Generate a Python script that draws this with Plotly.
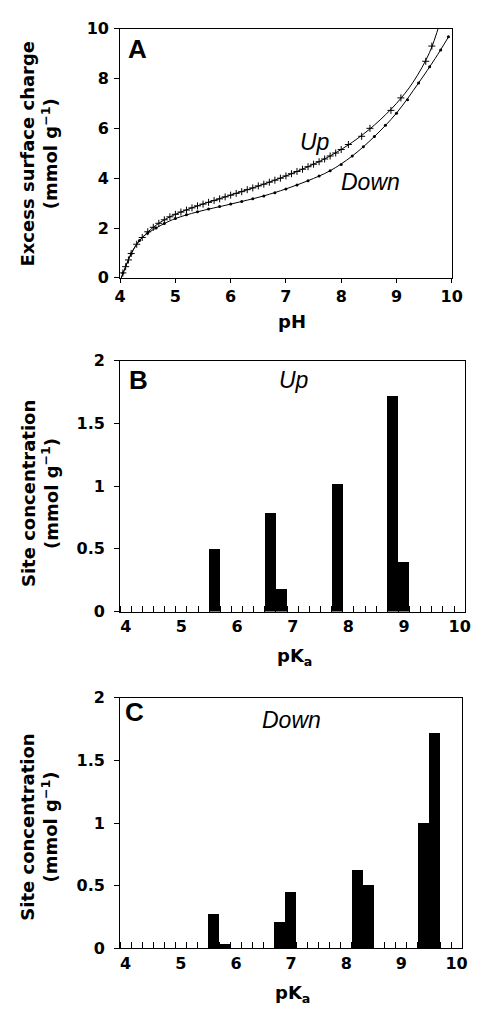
import plotly.graph_objects as go

# ---------------- Data ----------------
# Panel A: excess surface charge vs pH, measured points
up_ph = [4.05, 4.10, 4.15, 4.20, 4.30, 4.40, 4.50, 4.60, 4.70, 4.80, 4.90, 5.00,
         5.10, 5.20, 5.30, 5.40, 5.50, 5.60, 5.70, 5.80, 5.90, 6.00, 6.10, 6.20,
         6.30, 6.40, 6.50, 6.60, 6.70, 6.80, 6.90, 7.00, 7.10, 7.20, 7.30, 7.40,
         7.50, 7.60, 7.70, 7.80, 7.90, 8.00, 8.13, 8.37, 8.52, 8.90, 9.08, 9.53, 9.64]
up_q = [0.20, 0.45, 0.72, 0.98, 1.35, 1.62, 1.85, 2.03, 2.19, 2.33, 2.45, 2.55,
        2.64, 2.72, 2.81, 2.89, 2.96, 3.03, 3.10, 3.17, 3.25, 3.32, 3.39, 3.46,
        3.54, 3.61, 3.69, 3.76, 3.84, 3.92, 4.00, 4.09, 4.18, 4.27, 4.36, 4.46,
        4.56, 4.66, 4.77, 4.89, 5.01, 5.15, 5.35, 5.68, 6.00, 6.72, 7.22, 8.69, 9.30]

down_ph = [4.05, 4.20, 4.35, 4.50, 4.65, 4.80, 5.00, 5.20, 5.40, 5.60, 5.80, 6.00,
           6.20, 6.40, 6.60, 6.80, 7.00, 7.20, 7.40, 7.60, 7.80, 8.00, 8.20, 8.40,
           8.60, 8.80, 9.00, 9.20, 9.40, 9.60, 9.80, 9.94]
down_q = [0.20, 0.97, 1.50, 1.80, 2.00, 2.18, 2.38, 2.53, 2.65, 2.76, 2.86, 2.96,
          3.06, 3.17, 3.29, 3.42, 3.57, 3.73, 3.90, 4.09, 4.30, 4.55, 4.89, 5.26,
          5.67, 6.12, 6.61, 7.15, 7.82, 8.47, 9.14, 9.67]

# Fitted curves (solid lines)
up_fit_ph = [4.02, 4.10, 4.20, 4.30, 4.40, 4.60, 4.80, 5.00, 5.40, 6.00, 6.60, 7.00,
             7.40, 7.80, 8.20, 8.60, 9.00, 9.30, 9.60, 9.78]
up_fit_q = [0.00, 0.45, 0.98, 1.35, 1.62, 2.03, 2.33, 2.55, 2.89, 3.32, 3.76, 4.09,
            4.46, 4.89, 5.44, 6.13, 7.00, 7.85, 9.05, 10.20]
down_fit_ph = [4.02, 4.10, 4.20, 4.35, 4.50, 4.65, 4.80, 5.00, 5.40, 6.00, 6.60, 7.00,
               7.40, 7.80, 8.20, 8.60, 9.00, 9.40, 9.70, 9.95]
down_fit_q = [0.00, 0.45, 0.97, 1.50, 1.80, 2.00, 2.18, 2.38, 2.65, 2.96, 3.29, 3.57,
              3.90, 4.30, 4.89, 5.67, 6.61, 7.82, 8.80, 9.70]

# Panel B: site concentrations (Up)
pka_up = [5.6, 6.6, 6.8, 7.8, 8.8, 9.0]
conc_up = [0.50, 0.79, 0.18, 1.02, 1.72, 0.40]

# Panel C: site concentrations (Down)
pka_down = [5.6, 5.8, 6.8, 7.0, 8.2, 8.4, 9.4, 9.6]
conc_down = [0.28, 0.04, 0.21, 0.45, 0.63, 0.51, 1.00, 1.72]

ph_ticks = [4, 5, 6, 7, 8, 9, 10]
charge_ticks = [0, 2, 4, 6, 8, 10]
conc_ticks = [0, 0.5, 1, 1.5, 2]

# ---------------- Figure ----------------
W, H = 483, 1018
def px(x):
    return x / W
def py(y):
    return 1 - y / H

TICKFONT = dict(family="DejaVu Sans", size=16, color="black", weight="bold")
TITLEFONT = dict(family="DejaVu Sans", size=18, color="black", weight="bold")
LETTERFONT = dict(family="Liberation Sans", size=26, color="black", weight="bold")
ITALFONT = dict(family="Liberation Sans", size=23, color="black", style="italic")

fig = go.Figure()

# Panel A
fig.add_trace(go.Scatter(x=up_fit_ph, y=up_fit_q, mode="lines", line=dict(color="black", width=1, shape="spline"),
                         xaxis="x", yaxis="y", showlegend=False, hoverinfo="skip"))
fig.add_trace(go.Scatter(x=down_fit_ph, y=down_fit_q, mode="lines", line=dict(color="black", width=1, shape="spline"),
                         xaxis="x", yaxis="y", showlegend=False, hoverinfo="skip"))
fig.add_trace(go.Scatter(x=up_ph, y=up_q, mode="markers",
                         marker=dict(symbol="cross-thin", size=5, line=dict(color="black", width=1)),
                         xaxis="x", yaxis="y", showlegend=False, name="Up"))
fig.add_trace(go.Scatter(x=down_ph, y=down_q, mode="markers",
                         marker=dict(symbol="circle", size=3, color="black"),
                         xaxis="x", yaxis="y", showlegend=False, name="Down"))

# Panel B
fig.add_trace(go.Bar(x=pka_up, y=conc_up, width=0.2, marker=dict(color="black", line=dict(width=0)),
                     xaxis="x2", yaxis="y2", showlegend=False, name="Up"))
# Panel C
fig.add_trace(go.Bar(x=pka_down, y=conc_down, width=0.2, marker=dict(color="black", line=dict(width=0)),
                     xaxis="x3", yaxis="y3", showlegend=False, name="Down"))

common_axis = dict(showline=True, linecolor="black", linewidth=1, mirror=True, showgrid=False,
                   zeroline=False, tickfont=TICKFONT, ticks="outside", tickcolor="black")

fig.update_layout(
    width=W, height=H,
    margin=dict(l=0, r=0, t=0, b=0),
    paper_bgcolor="white", plot_bgcolor="white",
    bargap=0,
    xaxis=dict(common_axis, domain=[px(118.3), px(462)], range=[4, 10], tickvals=ph_ticks,
               ticklen=4, anchor="y"),
    yaxis=dict(common_axis, domain=[py(274), py(20)], range=[0, 10], tickvals=charge_ticks,
               ticklen=5, anchor="x", ticklabelstandoff=2),
    xaxis2=dict(common_axis, domain=[px(118.3), px(476)], range=[3.9, 10.1], tickvals=ph_ticks,
                ticks="", anchor="y2",
                minor=dict(ticks="inside", tickmode="linear", tick0=3.9, dtick=0.2, ticklen=6,
                           tickcolor="black", showgrid=False)),
    yaxis2=dict(common_axis, domain=[py(614), py(358.3)], range=[0, 2], tickvals=conc_ticks,
                ticklen=5, anchor="x2", ticklabelstandoff=6),
    xaxis3=dict(common_axis, domain=[px(118.3), px(472.7)], range=[3.9, 10.1], tickvals=ph_ticks,
                ticks="", anchor="y3",
                minor=dict(ticks="inside", tickmode="linear", tick0=3.9, dtick=0.2, ticklen=6,
                           tickcolor="black", showgrid=False)),
    yaxis3=dict(common_axis, domain=[py(957.3), py(701.7)], range=[0, 2], tickvals=conc_ticks,
                ticklen=5, anchor="x3", ticklabelstandoff=6),
)

ann = []
def add_text(text, x, y, font, angle=0):
    ann.append(dict(text=text, x=px(x), y=py(y), xref="paper", yref="paper", showarrow=False,
                    xanchor="center", yanchor="middle", font=font, textangle=angle))

# Axis titles
add_text("Excess surface charge<br>(mmol g<sup>−1</sup>)", 34.5, 147, TITLEFONT, -90)
add_text("pH", 296, 318, TITLEFONT)
add_text("Site concentration<br>(mmol g<sup>−1</sup>)", 34.5, 494, TITLEFONT, -90)
add_text("pK<sub>a</sub>", 299, 660, TITLEFONT)
add_text("Site concentration<br>(mmol g<sup>−1</sup>)", 34.5, 834, TITLEFONT, -90)
add_text("pK<sub>a</sub>", 297, 1004, TITLEFONT)

# Panel letters
add_text("A", 136, 41, LETTERFONT)
add_text("B", 137, 378, LETTERFONT)
add_text("C", 133, 716, LETTERFONT)

# Italic labels
add_text("Up", 320, 136, ITALFONT)
add_text("Down", 378, 176, ITALFONT)
add_text("Up", 298, 378, ITALFONT)
add_text("Down", 296, 725, ITALFONT)

fig.update_layout(annotations=ann)

# remove the default 8px page margin so the figure sits at the window origin
fig.write_html("out.html", config={"displayModeBar": False},
               post_script="document.body.style.margin='0';")
